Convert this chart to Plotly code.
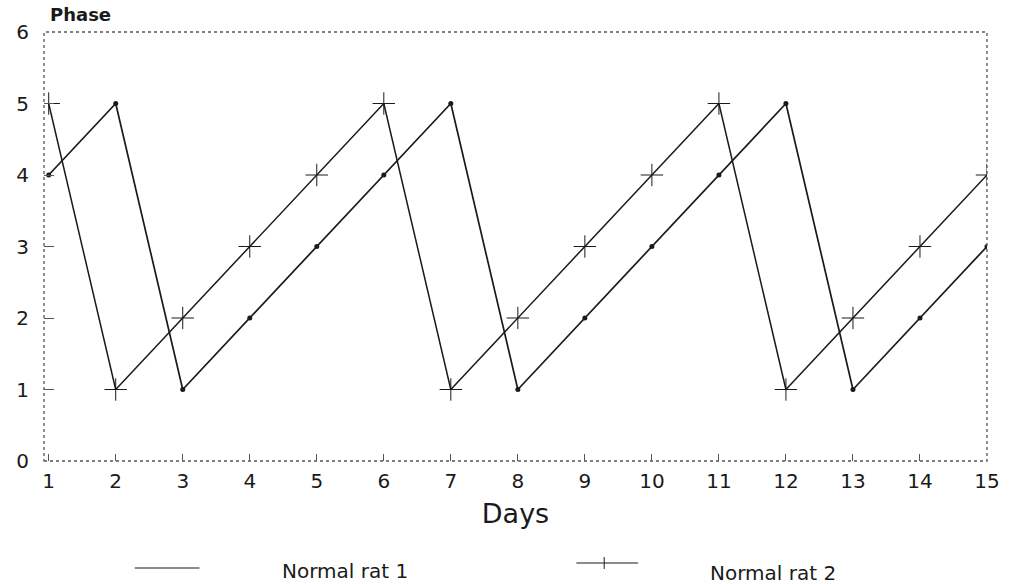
import plotly.graph_objects as go

days = list(range(1, 16))
rat1 = [4, 5, 1, 2, 3, 4, 5, 1, 2, 3, 4, 5, 1, 2, 3]
rat2 = [5, 1, 2, 3, 4, 5, 1, 2, 3, 4, 5, 1, 2, 3, 4]
x_ticks = list(range(1, 16))
y_ticks = [0, 1, 2, 3, 4, 5, 6]
names = ["Normal rat 1", "Normal rat 2"]

ink = "#1a1a1a"
font = "DejaVu Sans, Liberation Sans, Arial, sans-serif"

fig = go.Figure()
fig.add_trace(go.Scatter(x=days, y=rat1, name=names[0], mode="lines+markers",
                         line=dict(color=ink, width=1.7),
                         marker=dict(symbol="circle", size=5, color=ink)))
fig.add_trace(go.Scatter(x=days, y=rat2, name=names[1], mode="lines+markers",
                         line=dict(color=ink, width=1.5),
                         marker=dict(symbol="cross-thin-open", size=16,
                                     line=dict(color="#444", width=1))))

L, R, T, B = 44, 22, 32, 123
W, H = 1012, 584
pw, ph = W - L - R, H - T - B

fig.update_layout(
    width=W, height=H,
    margin=dict(l=L, r=R, t=T, b=B),
    paper_bgcolor="white", plot_bgcolor="white",
    showlegend=False,
    font=dict(family=font, color=ink),
    xaxis=dict(range=[0.93, 15], tickvals=x_ticks, ticks="inside", ticklen=7,
               tickcolor="#555", showgrid=False, zeroline=False, showline=False,
               ticklabelstandoff=6,
               tickfont=dict(size=20, family=font, color=ink),
               title=dict(text="Days", font=dict(size=27, family=font, color=ink),
                          standoff=12)),
    yaxis=dict(range=[0, 6], tickvals=y_ticks, ticks="inside", ticklen=10,
               tickcolor="#555", showgrid=False, zeroline=False, showline=False,
               ticklabelstandoff=14,
               tickfont=dict(size=20, family=font, color=ink)),
)

# frame (dotted, like the scanned original)
fig.add_shape(type="rect", xref="paper", yref="paper", x0=0, x1=1, y0=0, y1=1,
              line=dict(color="#555", width=1.3, dash="dot"))


def px_x(x):
    return (x - L) / pw


def px_y(y):
    return (H - B - y) / ph


# axis title "Phase"
fig.add_annotation(text="<b>Phase</b>", xref="paper", yref="paper", x=px_x(48), y=px_y(15),
                   xanchor="left", yanchor="middle", showarrow=False,
                   font=dict(size=18, family=font, color=ink))

# legend drawn manually
fig.add_shape(type="line", xref="paper", yref="paper",
              x0=px_x(135), x1=px_x(200), y0=px_y(568), y1=px_y(568),
              line=dict(color=ink, width=1.2))
fig.add_annotation(text=names[0], xref="paper", yref="paper",
                   x=px_x(281), y=px_y(571), xanchor="left",
                   yanchor="middle", showarrow=False,
                   font=dict(size=20, family=font, color=ink))
fig.add_shape(type="line", xref="paper", yref="paper",
              x0=px_x(578), x1=px_x(640), y0=px_y(563), y1=px_y(563),
              line=dict(color=ink, width=1.2))
fig.add_shape(type="line", xref="paper", yref="paper",
              x0=px_x(606), x1=px_x(606), y0=px_y(557), y1=px_y(569),
              line=dict(color=ink, width=1))
fig.add_annotation(text=names[1], xref="paper", yref="paper",
                   x=px_x(710), y=px_y(573), xanchor="left",
                   yanchor="middle", showarrow=False,
                   font=dict(size=20, family=font, color=ink))

fig.write_html("out.html", post_script="document.body.style.margin='0';",
               config={"displayModeBar": False})
